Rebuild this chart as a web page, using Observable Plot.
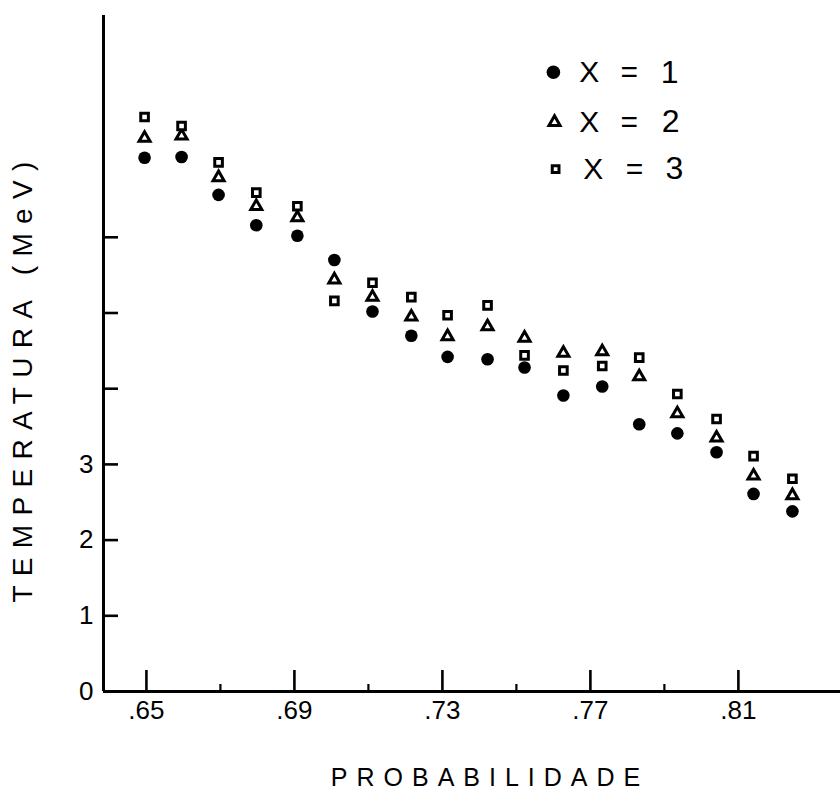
<!DOCTYPE html>
<html><head><meta charset="utf-8">
<script src="https://cdn.jsdelivr.net/npm/d3@7"></script>
<script src="https://cdn.jsdelivr.net/npm/@observablehq/plot@0.6"></script>
<style>
body{margin:0;background:#fff}
#chart svg{font-family:"Liberation Sans",Arial,sans-serif}
g.xtitle text{letter-spacing:9px}
g.ytitle text{letter-spacing:9.3px}
</style></head><body><div id="chart"></div>
<script>
// Probabilidade (x) for each group of points
const prob = [.6495,.6595,.6695,.6797,.6908,.7008,.7111,.7216,.7314,.7422,.7522,.7627,.7732,.7832,.7935,.8041,.8141,.8246];
// Temperatura (MeV) for X = 1, 2, 3
const tempX1 = [7.05,7.06,6.56,6.16,6.02,5.70,5.02,4.70,4.42,4.39,4.28,3.91,4.03,3.53,3.41,3.16,2.61,2.38];
const tempX2 = [7.31,7.34,6.79,6.41,6.26,5.44,5.21,4.95,4.69,4.82,4.67,4.47,4.49,4.16,3.67,3.35,2.85,2.59];
const tempX3 = [7.59,7.47,6.99,6.59,6.41,5.16,5.40,5.21,4.97,5.10,4.44,4.24,4.30,4.41,3.93,3.60,3.11,2.81];
const seriesNames = ["X = 1","X = 2","X = 3"];
const seriesDigits = ["1","2","3"];
const xTitle = "PROBABILIDADE";
const yTitle = "TEMPERATURA (MeV)";
// axis ticks
const xMajor = [.65,.69,.73,.77,.81];
const xMinor = [.67,.71,.75,.79];
const yTicks = [1,2,3,4,5,6];
const yLabels = [0,1,2,3];
const xDomain = [0.6384, 0.8376];
const yDomain = [0, 8.93];
// legend anchor (data space)
const legendSymX = [0.7600, 0.7603, 0.7606];
const legendXX = [0.7697, 0.7697, 0.7708];
const legendEqX = [0.7805, 0.7805, 0.7819];
const legendNumX = [0.7914, 0.7917, 0.7927];
const legendY = [8.18, 7.52, 6.90];

const series = [tempX1, tempX2, tempX3];
const points = series.flatMap((vals, s) => vals.map((t, i) => ({p: prob[i], t, s: seriesNames[s]})));
const legend = seriesNames.map((name, s) => ({s: name, digit: seriesDigits[s], y: legendY[s],
  sx: legendSymX[s], xx: legendXX[s], ex: legendEqX[s], nx: legendNumX[s]}));

const hollow = {fill: "white", stroke: "black", strokeWidth: 3};
const plot = Plot.plot({
  width: 840, height: 802,
  marginLeft: 103, marginRight: 0, marginTop: 15, marginBottom: 111,
  style: {fontFamily: "Liberation Sans, Arial, sans-serif", fontSize: "26px", color: "black", background: "white", overflow: "visible"},
  x: {domain: xDomain},
  y: {domain: yDomain},
  marks: [
    // axis lines
    Plot.ruleY([0], {stroke: "black", strokeWidth: 3}),
    Plot.ruleX([xDomain[0]], {stroke: "black", strokeWidth: 3}),
    // x ticks (inward)
    Plot.axisX(xMajor, {tickSize: -21, strokeWidth: 2.6, text: null, label: null}),
    Plot.axisX(xMinor, {tickSize: -7, strokeWidth: 2.2, text: null, label: null}),
    Plot.axisX(xMajor, {tickSize: 0, tickPadding: 9, tickFormat: d => d.toFixed(2).replace(/^0/, ""), label: null}),
    // y ticks (inward)
    Plot.axisY(yTicks, {tickSize: -15, strokeWidth: 2.6, text: null, label: null}),
    Plot.axisY(yLabels, {tickSize: 0, tickPadding: 10, tickFormat: d => String(d), label: null}),
    // axis titles
    Plot.text([xTitle], {text: d => d, frameAnchor: "bottom", textAnchor: "middle", lineAnchor: "middle", dy: 86, dx: 18, fontSize: 25, className: "xtitle"}),
    Plot.text([yTitle], {text: d => d, frameAnchor: "left", textAnchor: "middle", rotate: -90, lineAnchor: "middle", dx: -80, dy: 24, fontSize: 28, className: "ytitle"}),
    // data
    Plot.dot(points.filter(d => d.s === seriesNames[0]), {x: "p", y: "t", r: 6.3, fill: "black", symbol: "circle"}),
    Plot.dot(points.filter(d => d.s === seriesNames[1]), {x: "p", y: "t", r: 4.1, symbol: "triangle", ...hollow}),
    Plot.dot(points.filter(d => d.s === seriesNames[2]), {x: "p", y: "t", r: 4.3, symbol: "square", ...hollow}),
    // legend
    Plot.dot(legend.slice(0, 1), {x: "sx", y: "y", r: 6.8, fill: "black", symbol: "circle"}),
    Plot.dot(legend.slice(1, 2), {x: "sx", y: "y", r: 4.1, symbol: "triangle", ...hollow}),
    Plot.dot(legend.slice(2, 3), {x: "sx", y: "y", r: 3.8, symbol: "square", ...hollow}),
    Plot.text(legend, {x: "xx", y: "y", text: () => "X", fontSize: 30}),
    Plot.text(legend, {x: "ex", y: "y", text: () => "=", fontSize: 30}),
    Plot.text(legend, {x: "nx", y: "y", text: "digit", fontSize: 32})
  ]
});
document.getElementById("chart").append(plot);
</script></body></html>
